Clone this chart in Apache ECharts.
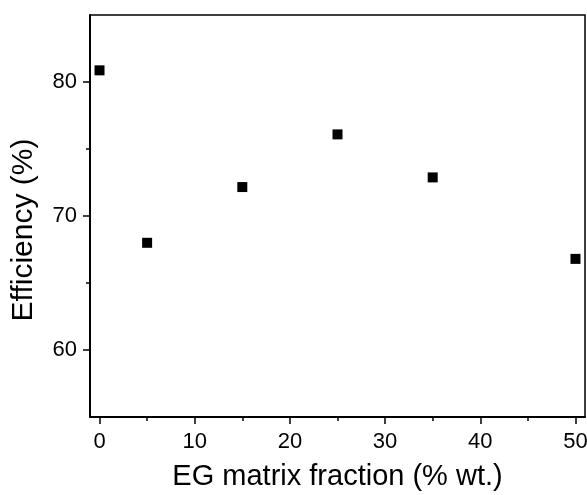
<!DOCTYPE html>
<html>
<head>
<meta charset="utf-8">
<script src="https://cdn.jsdelivr.net/npm/echarts@6/dist/echarts.min.js"></script>
<style>
html,body{margin:0;padding:0;background:#fff;}
#chart{width:587px;height:495px;}
</style>
</head>
<body>
<div id="chart"></div>
<script>
const fractions = [0, 5, 15, 25, 35, 50];
const efficiency = [80.87, 68.0, 72.16, 76.09, 72.88, 66.8];
const xMajorTicks = [0, 10, 20, 30, 40, 50];
const xMinorTicks = [5, 15, 25, 35, 45];
const yMajorTicks = [60, 70, 80];
const yMinorTicks = [65, 75];
const xTitle = 'EG matrix fraction (% wt.)';
const yTitle = 'Efficiency (%)';

const FONT = '"Liberation Sans", Arial, sans-serif';
const chart = echarts.init(document.getElementById('chart'), null, {renderer: 'canvas'});

const commonX = {type: 'value', min: -1, max: 51, gridIndex: 0, position: 'bottom', splitLine: {show: false}};
const commonY = {type: 'value', min: 55, max: 85, gridIndex: 0, position: 'left', splitLine: {show: false}};

chart.setOption({
  animation: false,
  backgroundColor: '#fff',
  grid: {left: 90, right: 2, top: 15, bottom: 78, containLabel: false, outerBoundsMode: 'none',
    show: true, borderColor: '#000', borderWidth: 1.5, backgroundColor: 'transparent'},
  xAxis: [
    Object.assign({}, commonX, {
      name: xTitle, nameLocation: 'middle', nameGap: 45,
      nameTextStyle: {fontFamily: FONT, fontSize: 29, color: '#000'},
      axisLine: {show: true, onZero: false, lineStyle: {color: '#000', width: 2}},
      axisTick: {show: true, inside: false, length: 7, customValues: xMajorTicks, lineStyle: {color: '#000', width: 1.5}},
      axisLabel: {show: true, customValues: xMajorTicks, margin: 14, fontFamily: FONT, fontSize: 22, color: '#000'}
    }),
    Object.assign({}, commonX, {
      axisLine: {show: false, onZero: false},
      axisTick: {show: true, inside: false, length: 4, customValues: xMinorTicks, lineStyle: {color: '#000', width: 1.5}},
      axisLabel: {show: false}
    })
  ],
  yAxis: [
    Object.assign({}, commonY, {
      name: yTitle, nameLocation: 'middle', nameGap: 51, nameRotate: 90,
      nameTextStyle: {fontFamily: FONT, fontSize: 30, color: '#000', padding: [0, 28, 0, 0]},
      axisLine: {show: true, onZero: false, lineStyle: {color: '#000', width: 2}},
      axisTick: {show: true, inside: false, length: 7, customValues: yMajorTicks, lineStyle: {color: '#000', width: 1.5}},
      axisLabel: {show: true, customValues: yMajorTicks, margin: 13, fontFamily: FONT, fontSize: 22, color: '#000'}
    }),
    Object.assign({}, commonY, {
      axisLine: {show: false, onZero: false},
      axisTick: {show: true, inside: false, length: 4, customValues: yMinorTicks, lineStyle: {color: '#000', width: 1.5}},
      axisLabel: {show: false}
    })
  ],
  series: [{
    type: 'scatter',
    xAxisIndex: 0,
    yAxisIndex: 0,
    symbol: 'rect',
    symbolSize: 10,
    itemStyle: {color: '#000', opacity: 1},
    data: fractions.map((f, i) => [f, efficiency[i]])
  }]
});
</script>
</body>
</html>
